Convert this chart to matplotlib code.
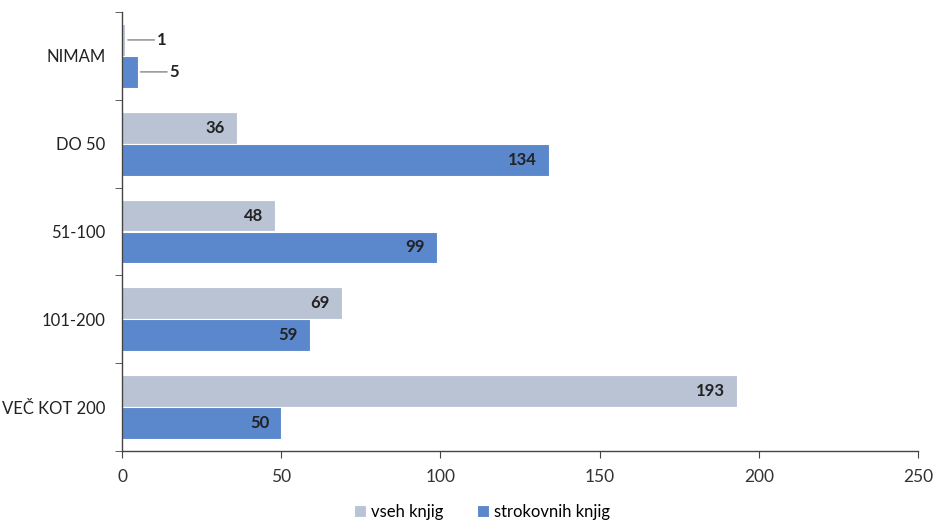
import matplotlib
matplotlib.use("Agg")
import matplotlib.pyplot as plt
import numpy as np

categories = ["NIMAM", "DO 50", "51-100", "101-200", "VEČ KOT 200"]
vseh = [1, 36, 48, 69, 193]
strokovnih = [5, 134, 99, 59, 50]
series_names = ["vseh knjig", "strokovnih knjig"]
xticks = [0, 50, 100, 150, 200, 250]

c_light = "#B9C3D4"
c_blue = "#5B87CC"

plt.rcParams['font.family'] = ['Lato', 'DejaVu Sans']

fig = plt.figure(figsize=(9.33, 5.22), dpi=100)
ax = fig.add_axes([122/933, 1-451/522, (918-122)/933, (451-12)/522])

n = len(categories)
pos = np.arange(n)
h = 0.364
b1 = ax.barh(pos - h/2, vseh, height=h, color=c_light, edgecolor="white", linewidth=0.8, label=series_names[0])
b2 = ax.barh(pos + h/2, strokovnih, height=h, color=c_blue, edgecolor="white", linewidth=0.8, label=series_names[1])

ax.set_ylim(n - 0.5, -0.5)
ax.set_xlim(0, 250)
ax.set_xticks(xticks)
ax.set_xticklabels([str(t) for t in xticks], fontsize=12.5, color="#333333")
ax.set_yticks(pos)
ax.set_yticklabels(categories, fontsize=12, color="#222222")
ax.set_yticks(np.arange(n + 1) - 0.5, minor=True)
ax.tick_params(axis='y', which='major', length=0, pad=12)
ax.tick_params(axis='y', which='minor', length=5, color="#444444")
ax.tick_params(axis='x', length=5, color="#444444", pad=8)
for s in ["top", "right"]:
    ax.spines[s].set_visible(False)
for s in ["left", "bottom"]:
    ax.spines[s].set_color("#444444")
    ax.spines[s].set_linewidth(1.0)

for bars, vals in ((b1, vseh), (b2, strokovnih)):
    for rect, v in zip(bars, vals):
        yc = rect.get_y() + rect.get_height() / 2
        if v < 20:
            ax.annotate(str(v), xy=(v, yc), xytext=(v + 10, yc),
                        fontsize=12, fontweight="bold", color="#222222",
                        va="center", ha="left",
                        arrowprops=dict(arrowstyle="-", color="#999999", lw=1.2,
                                        shrinkA=0, shrinkB=2))
        else:
            ax.text(v - 3.8, yc, str(v), fontsize=12, fontweight="bold",
                    color="#222222", va="center", ha="right")

fig.legend(handles=[b1, b2], labels=series_names, loc="center",
           bbox_to_anchor=(482/933, 1 - 512/522), ncol=2, frameon=False,
           fontsize=12, handlelength=0.7, handleheight=0.7, handletextpad=0.3,
           columnspacing=2.0)

fig.savefig("out.png", dpi=100)
